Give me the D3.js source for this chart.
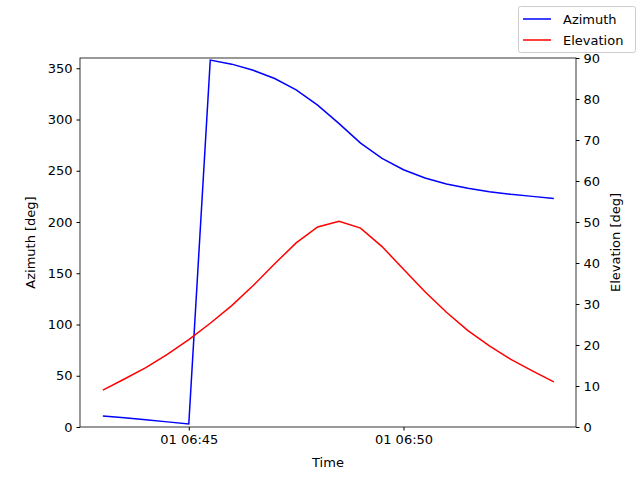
<!DOCTYPE html>
<html>
<head>
<meta charset="utf-8">
<script src="https://cdn.jsdelivr.net/npm/d3@7"></script>
<style>
  body { margin: 0; background: #fff; }
  text { font-family: "DejaVu Sans", sans-serif; font-size: 13px; fill: #000; }
</style>
</head>
<body>
<svg id="chart" width="640" height="480"></svg>
<script>
// times: every 30 s from 06:43:00 to 06:53:30
var times = ['06:43:00','06:43:30','06:44:00','06:44:30','06:45:00','06:45:30','06:46:00','06:46:30',
  '06:47:00','06:47:30','06:48:00','06:48:30','06:49:00','06:49:30','06:50:00','06:50:30',
  '06:51:00','06:51:30','06:52:00','06:52:30','06:53:00','06:53:30'];
var azimuth = [10.7, 9, 7, 5, 3, 358, 354, 348, 340, 329, 314, 296, 277, 262, 251, 243, 237, 233, 229.5, 227, 225, 223];
var elevation = [9, 11.7, 14.5, 17.7, 21.3, 25.3, 29.6, 34.5, 39.8, 44.9, 48.8, 50.2, 48.5, 44, 38.5, 33, 28, 23.5, 19.8, 16.5, 13.7, 11];
var xTicks = ['06:45:00', '06:50:00'];

var parse = function (s) { return new Date(2000, 0, 1, +s.slice(0,2), +s.slice(3,5), +s.slice(6,8)); };
var dates = times.map(parse);

var L = 80, R = 576, T = 58, B = 427;
var svg = d3.select('#chart');

var x = d3.scaleTime()
  .domain([new Date(2000,0,1,6,42,28.5), new Date(2000,0,1,6,54,1.5)])
  .range([L, R]);
var yL = d3.scaleLinear().domain([0, 360]).range([B, T]);
var yR = d3.scaleLinear().domain([0, 90]).range([B, T]);

var fmt = d3.timeFormat('%d %H:%M');

svg.append('g').attr('transform', 'translate(0,' + B + ')')
  .call(d3.axisBottom(x).tickValues(xTicks.map(parse)).tickFormat(fmt).tickSizeOuter(0).tickSize(3.5).tickPadding(4));
svg.append('g').attr('transform', 'translate(' + L + ',0)')
  .call(d3.axisLeft(yL).tickValues(d3.range(0, 351, 50)).tickSizeOuter(0).tickSize(3.5).tickPadding(4));
svg.append('g').attr('transform', 'translate(' + R + ',0)')
  .call(d3.axisRight(yR).tickValues(d3.range(0, 91, 10)).tickSizeOuter(0).tickSize(3.5).tickPadding(4));
svg.selectAll('.domain').remove();
svg.selectAll('.tick text').style('font-size', '13px').attr('font-family', null);

svg.append('rect').attr('x', L).attr('y', T).attr('width', R - L).attr('height', B - T)
  .attr('fill', 'none').attr('stroke', '#000').attr('stroke-width', 0.8);

svg.append('path').datum(azimuth)
  .attr('fill', 'none').attr('stroke', 'blue').attr('stroke-width', 1.5)
  .attr('d', d3.line().x(function (d, i) { return x(dates[i]); }).y(function (d) { return yL(d); }));
svg.append('path').datum(elevation)
  .attr('fill', 'none').attr('stroke', 'red').attr('stroke-width', 1.5)
  .attr('d', d3.line().x(function (d, i) { return x(dates[i]); }).y(function (d) { return yR(d); }));

svg.append('text').attr('x', (L + R) / 2).attr('y', 467).attr('text-anchor', 'middle').text('Time');
svg.append('text').attr('transform', 'translate(35,' + (T + B) / 2 + ') rotate(-90)')
  .attr('text-anchor', 'middle').text('Azimuth [deg]');
svg.append('text').attr('transform', 'translate(620,' + (T + B) / 2 + ') rotate(-90)')
  .attr('text-anchor', 'middle').text('Elevation [deg]');

// legend
var lg = svg.append('g');
lg.append('rect').attr('x', 518.5).attr('y', 6.5).attr('width', 117).attr('height', 46).attr('rx', 2)
  .attr('fill', '#fff').attr('fill-opacity', 0.8).attr('stroke', '#ccc');
[['Azimuth', 'blue'], ['Elevation', 'red']].forEach(function (d, i) {
  var yy = 19 + i * 21;
  lg.append('line').attr('x1', 523).attr('x2', 551).attr('y1', yy).attr('y2', yy)
    .attr('stroke', d[1]).attr('stroke-width', 1.5);
  lg.append('text').attr('x', 563).attr('y', yy + 4.5).text(d[0]);
});
</script>
</body>
</html>
